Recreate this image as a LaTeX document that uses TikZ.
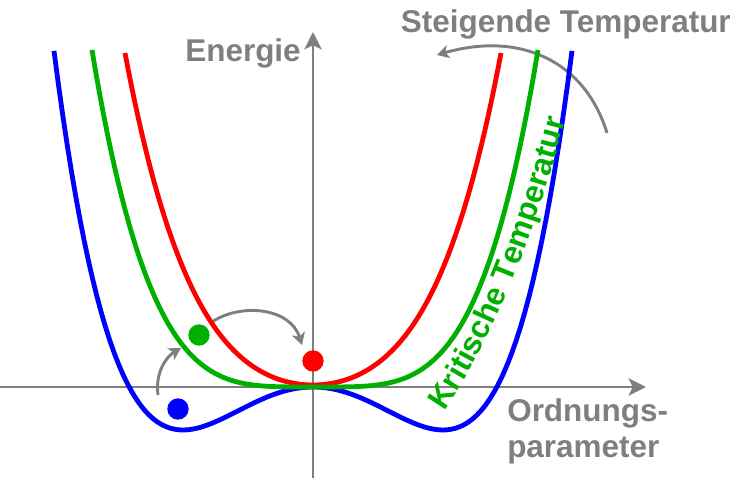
\documentclass[tikz,border=0pt]{standalone}
\usepackage{fontspec}
\setmainfont{Liberation Sans}
\usetikzlibrary{arrows.meta,decorations.text}
\definecolor{PTGray}{HTML}{7F7F7F}
\definecolor{PTBlue}{HTML}{0000FF}
\definecolor{PTGreen}{HTML}{00B000}
\definecolor{PTRed}{HTML}{FF0000}
\newcommand{\lblfont}{\fontsize{23.6}{27}\selectfont\bfseries}

\begin{document}
\begin{tikzpicture}[x=0.75pt,y=0.75pt,
    axis/.style={draw=PTGray,line width=2.2pt,
      -{Stealth[length=13pt,width=13pt,inset=3pt]}},
    curve/.style={line width=3.6pt,line join=round},
    movearrow/.style={draw=PTGray,line width=2.2pt,
      -{Stealth[length=9pt,width=10pt,inset=2.5pt]}},
    dot/.style={circle,inner sep=0pt,minimum size=16pt},
    lbl/.style={inner sep=0pt,text=PTGray,font=\lblfont}
  ]
    \useasboundingbox (0,0) rectangle (736,481);

    % axes
    \coordinate (xstart) at (0,94);
    \coordinate (xend) at (646,94);
    \coordinate (ystart) at (313,3);
    \coordinate (yend) at (313,449);
    \draw[axis] (xstart) -- (xend);
    \draw[axis] (ystart) -- (yend);

    % arrows between the states
    \coordinate (blueup) at (158,86);
    \coordinate (greenin) at (181,133);
    \coordinate (greenup) at (212,159);
    \coordinate (redin) at (302,136);
    \coordinate (tempstart) at (607,348);
    \coordinate (tempend) at (437,426);
    \draw[movearrow] (blueup) .. controls (155,108) and (166,124) .. (greenin);
    \draw[movearrow] (greenup) .. controls (240,178) and (290,174) .. (redin);
    \draw[movearrow] (tempstart) .. controls (585,420) and (520,450) .. (tempend);

    % energy curves
    \draw[curve,PTBlue] plot[domain=-259:259,samples=121]
      ({313+\x},{94+43*((\x/130)^4-2*(\x/130)^2)});
    \draw[curve,PTRed] plot[domain=-188:188,samples=121]
      ({313+\x},{96+165*(\x/188)^2+167*(\x/188)^4});
    \draw[curve,PTGreen] plot[domain=-223:223,samples=121]
      ({315+\x},{94+337*(\x/223)^4});

    % states
    \node[dot,fill=PTBlue] (bluedot) at (178,72) {};
    \node[dot,fill=PTGreen] (greendot) at (199,146) {};
    \node[dot,fill=PTRed] (reddot) at (313,120) {};

    % labels
    \node[lbl,anchor=base east] (energie) at (301,419) {Energie};
    \node[lbl,anchor=base east] (steigend) at (731,448) {Steigende Temperatur};
    \node[lbl,anchor=base west,align=left] (ordnung) at (507,23) {Ordnungs-\\parameter};
    \coordinate (kritstart) at (440,64);
    \coordinate (kritend) at (567,368);
    \path[decorate,decoration={text along path,text align=center,
        text={|\lblfont\color{PTGreen}|Kritische Temperatur}}]
      (kritstart) .. controls (500,148) and (542,270) .. (kritend);
  \end{tikzpicture}
\end{document}
